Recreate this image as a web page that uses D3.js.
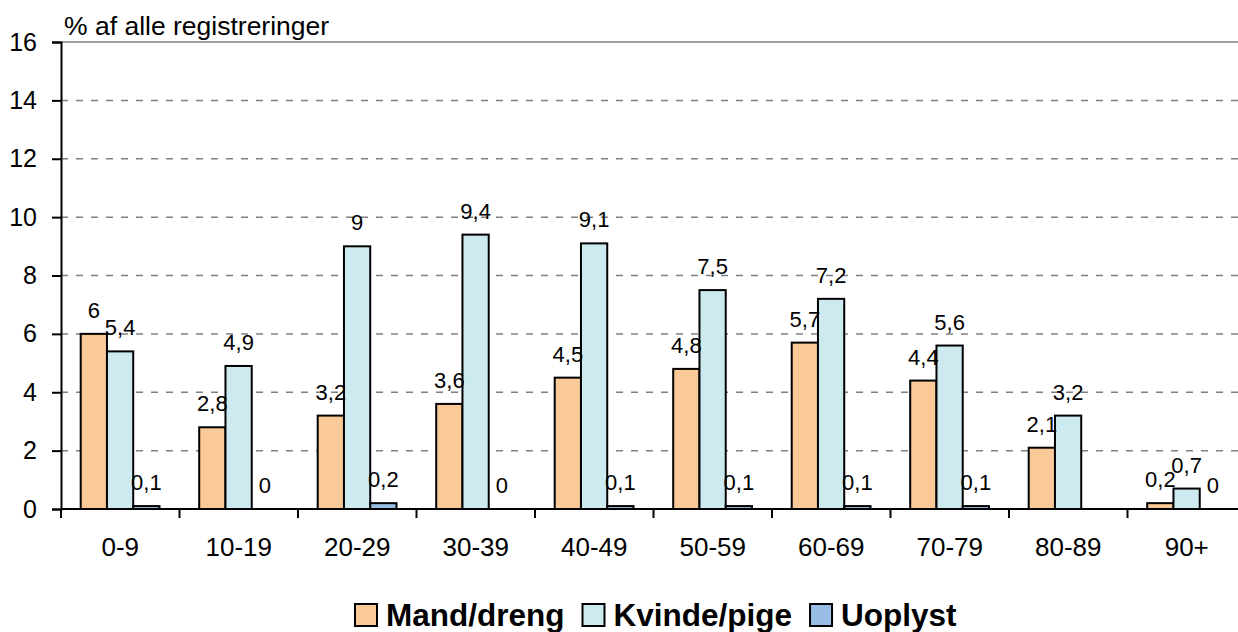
<!DOCTYPE html>
<html>
<head>
<meta charset="utf-8">
<script src="https://cdn.jsdelivr.net/npm/d3@7"></script>
<style>
  body { margin: 0; background: #fff; }
  text { font-family: "Liberation Sans", Arial, sans-serif; fill: #000; }
</style>
</head>
<body>
<div id="wrapper"></div>
<script>
// aldersgrupper og andele (% af alle registreringer)
var categories = ["0-9", "10-19", "20-29", "30-39", "40-49", "50-59", "60-69", "70-79", "80-89", "90+"]
var seriesNames = ["Mand/dreng", "Kvinde/pige", "Uoplyst"]
var mand = [6, 2.8, 3.2, 3.6, 4.5, 4.8, 5.7, 4.4, 2.1, 0.2]
var kvinde = [5.4, 4.9, 9, 9.4, 9.1, 7.5, 7.2, 5.6, 3.2, 0.7]
var uoplyst = [0.1, 0, 0.2, 0, 0.1, 0.1, 0.1, 0.1, null, 0]
var yTicks = [0, 2, 4, 6, 8, 10, 12, 14, 16]

var colors = ["#F9C997", "#CDEAF0", "#99BEE6"]

var W = 1238, H = 632
var plotLeft = 61, plotTop = 42, plotBottom = 509

const svg = d3.select("#wrapper")
    .append("svg")
    .attr("width", W)
    .attr("height", H)

var xScale = d3.scaleBand()
    .domain(categories)
    .range([plotLeft, plotLeft + 118.5 * categories.length])

var inner = d3.scaleBand()
    .domain(seriesNames)
    .range([19.7, 98.5])

var yScale = d3.scaleLinear()
    .domain([0, 16])
    .range([plotBottom, plotTop])

// gridlines
svg.append("g")
    .selectAll("line")
    .data(yTicks.filter(d => d > 0))
    .join("line")
    .attr("x1", plotLeft)
    .attr("x2", W)
    .attr("y1", d => yScale(d))
    .attr("y2", d => yScale(d))
    .attr("stroke", "#808080")
    .attr("stroke-width", 1.5)
    .attr("stroke-dasharray", d => d == 16 ? null : "7,8")

// y axis
var yAxis = svg.append("g")
    .attr("transform", "translate(" + plotLeft + ",0)")
    .call(d3.axisLeft(yScale).tickValues(yTicks).tickSize(9).tickPadding(15).tickFormat(d3.format("d")))
yAxis.select(".domain").attr("stroke", "#000").attr("stroke-width", 2)
yAxis.selectAll(".tick line").attr("stroke", "#000").attr("stroke-width", 2)
yAxis.selectAll(".tick text")
    .style("font-family", "Liberation Sans, Arial, sans-serif")
    .style("font-size", "25px")
    .attr("fill", "#000")

// y title
svg.append("text")
    .attr("x", 64)
    .attr("y", 35)
    .style("font-size", "26.5px")
    .text("% af alle registreringer")

// series data
var seriesData = [mand, kvinde, uoplyst]
var bars = []
seriesData.forEach((vals, s) => {
    vals.forEach((v, i) => {
        if (v !== null) bars.push({ cat: categories[i], s: s, name: seriesNames[s], v: v })
    })
})

svg.append("g")
    .selectAll("rect")
    .data(bars)
    .join("rect")
    .attr("x", d => xScale(d.cat) + inner(d.name))
    .attr("width", inner.bandwidth())
    .attr("y", d => yScale(d.v))
    .attr("height", d => yScale(0) - yScale(d.v))
    .attr("fill", d => colors[d.s])
    .attr("stroke", "#000")
    .attr("stroke-width", 2)

// value labels
var fmt = d => String(d).replace(".", ",")
svg.append("g")
    .selectAll("text")
    .data(bars)
    .join("text")
    .attr("x", d => xScale(d.cat) + inner(d.name) + inner.bandwidth() / 2)
    .attr("y", d => yScale(d.v) - 16)
    .attr("text-anchor", "middle")
    .style("font-size", "22px")
    .text(d => fmt(d.v))

// x axis
svg.append("line")
    .attr("x1", plotLeft)
    .attr("x2", W)
    .attr("y1", plotBottom)
    .attr("y2", plotBottom)
    .attr("stroke", "#000")
    .attr("stroke-width", 2)

var bounds = categories.map(c => xScale(c)).concat([xScale.range()[1]])
svg.append("g")
    .selectAll("line")
    .data(bounds)
    .join("line")
    .attr("x1", d => d)
    .attr("x2", d => d)
    .attr("y1", plotBottom)
    .attr("y2", plotBottom + 9)
    .attr("stroke", "#000")
    .attr("stroke-width", 2)

svg.append("g")
    .selectAll("text")
    .data(categories)
    .join("text")
    .attr("x", d => xScale(d) + xScale.bandwidth() / 2)
    .attr("y", 556)
    .attr("text-anchor", "middle")
    .style("font-size", "26px")
    .text(d => d)

// legend
var legend = svg.append("g")
var lx = 0
seriesNames.forEach((name, i) => {
    var item = legend.append("g").attr("transform", "translate(" + lx + ",0)")
    item.append("rect")
        .attr("x", 0)
        .attr("y", -22)
        .attr("width", 22)
        .attr("height", 22)
        .attr("fill", colors[i])
        .attr("stroke", "#000")
        .attr("stroke-width", 2)
    var t = item.append("text")
        .attr("x", 31)
        .attr("y", 0)
        .style("font-size", "31.5px")
        .style("font-weight", "bold")
        .text(name)
    lx += 31 + t.node().getComputedTextLength() + 18
})
legend.attr("transform", "translate(355,626)")
</script>
</body>
</html>
